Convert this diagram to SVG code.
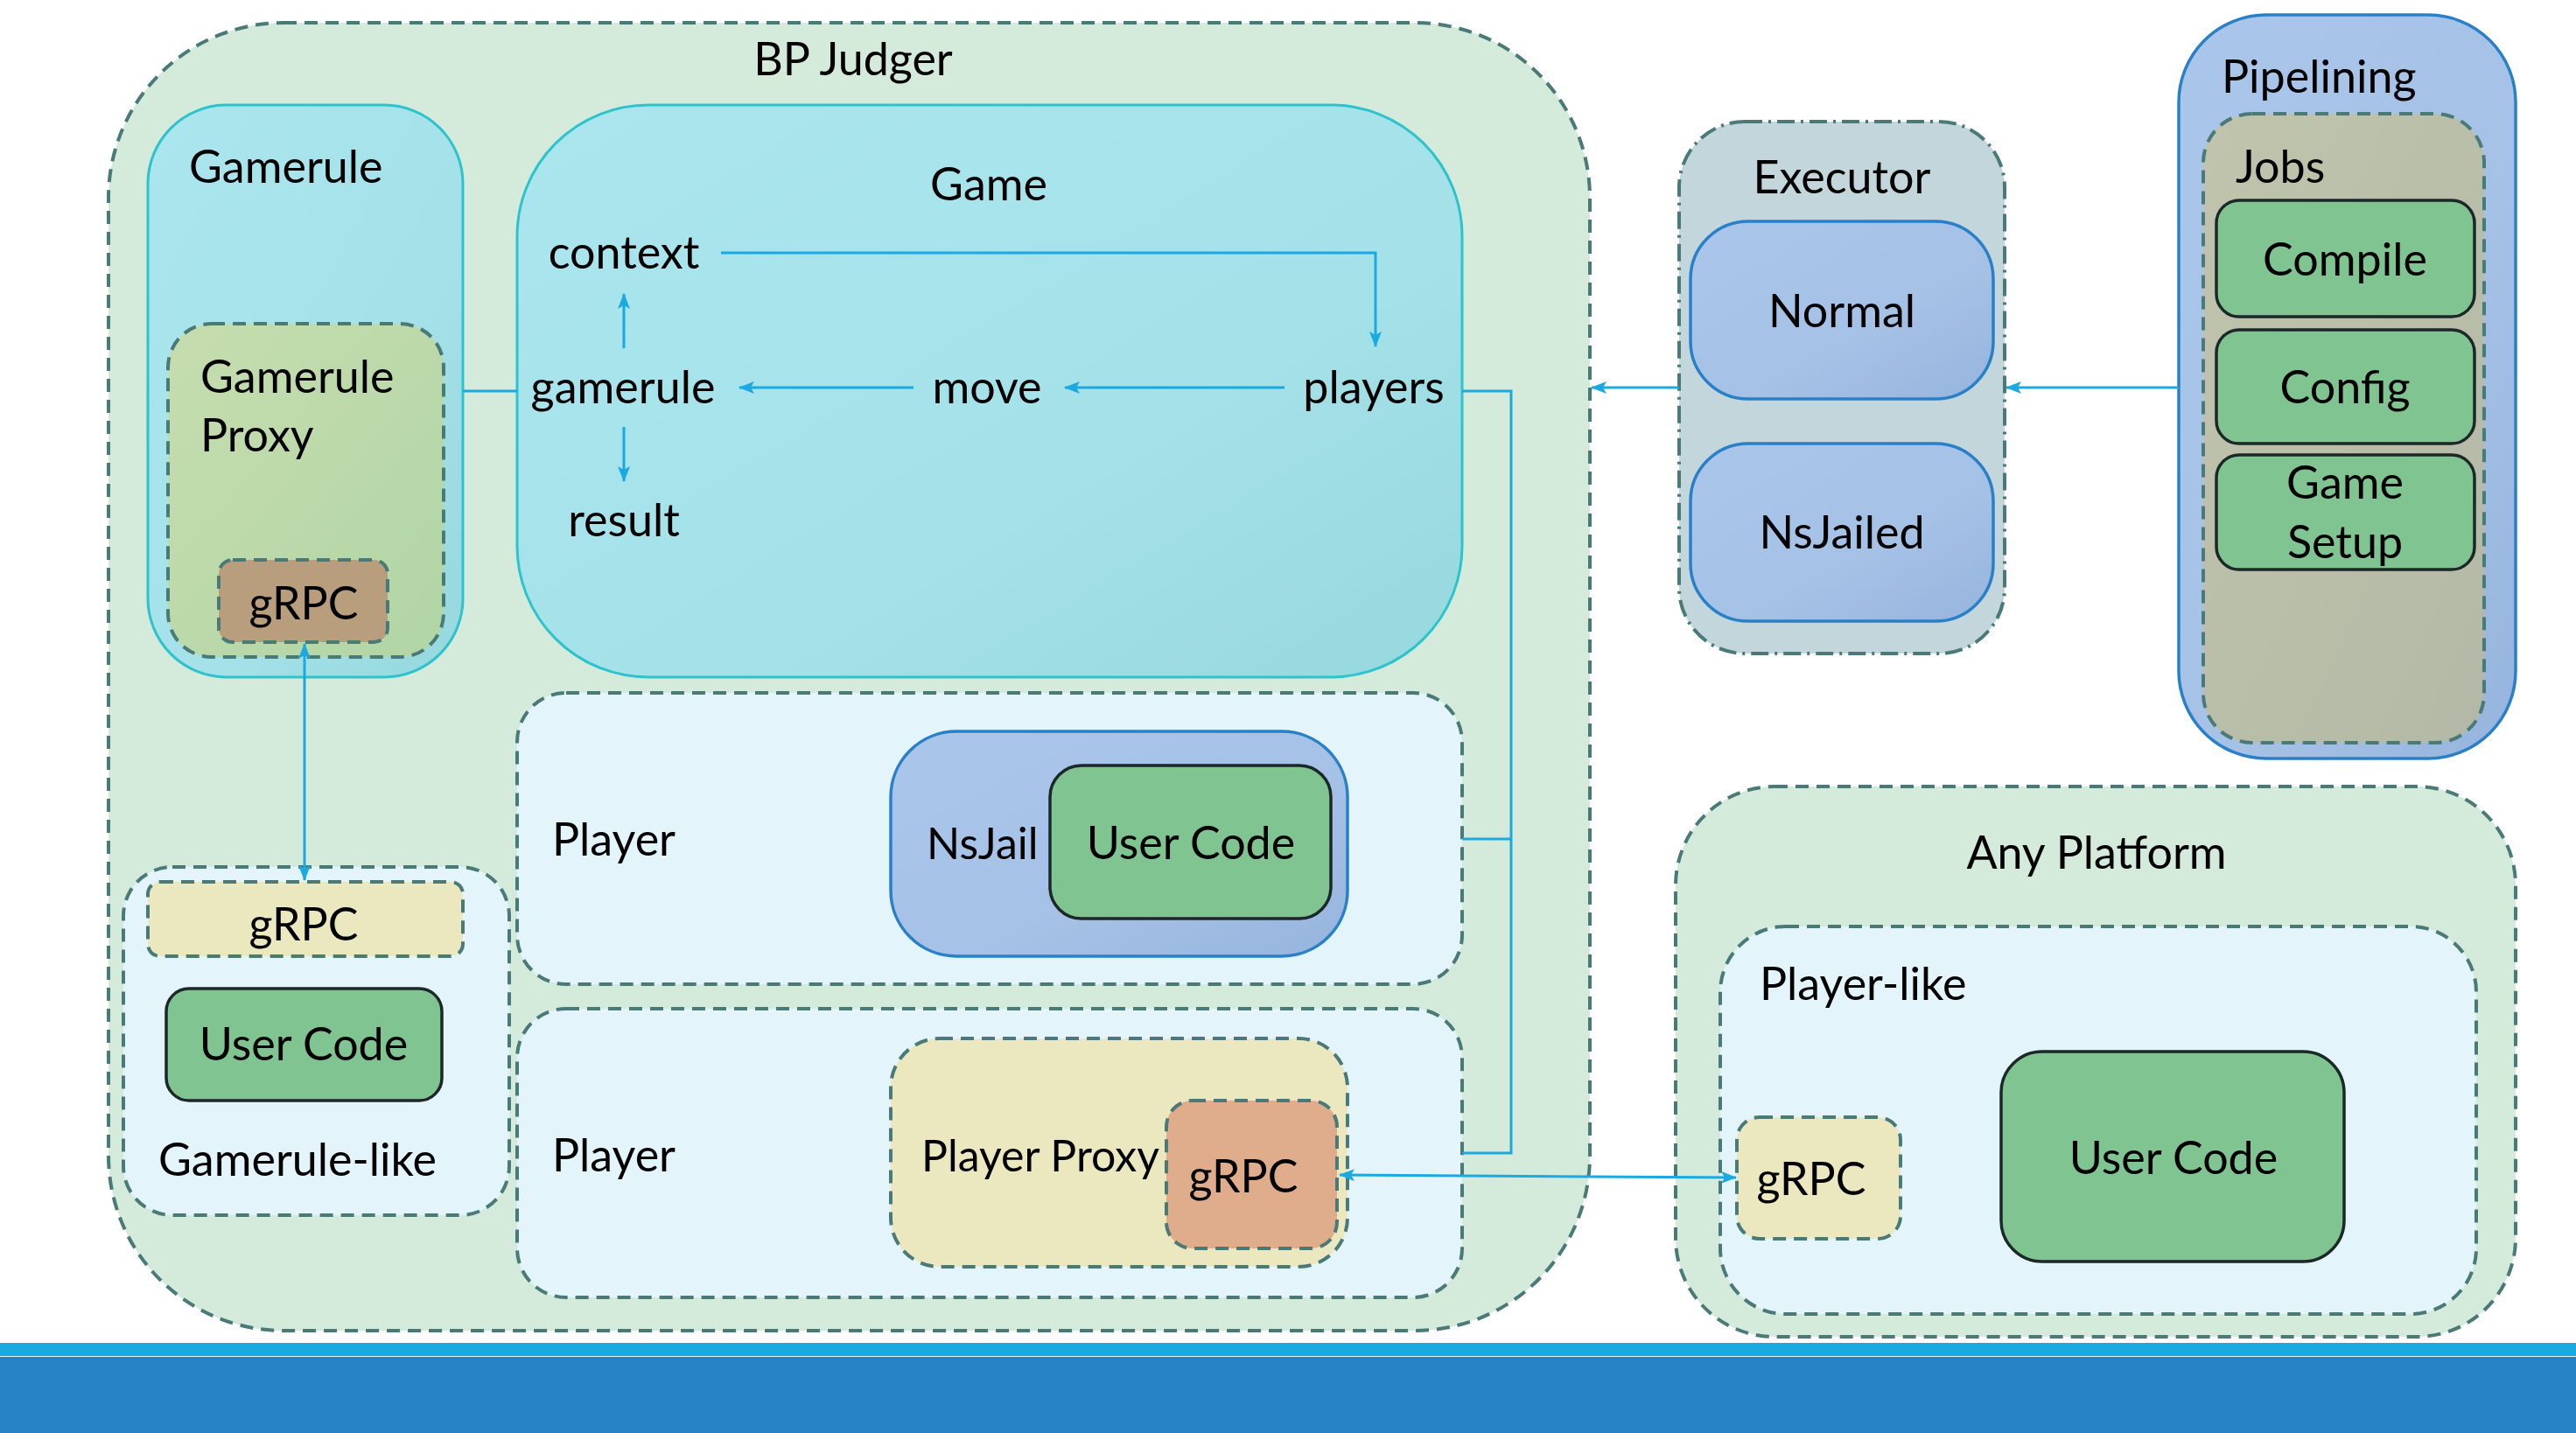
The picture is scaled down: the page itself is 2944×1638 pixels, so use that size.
<svg xmlns="http://www.w3.org/2000/svg" width="2944" height="1638" viewBox="0 0 2944 1638">
<style>
text{font-family:Lato,"Liberation Sans",sans-serif;font-size:52px;fill:#000}
.m{text-anchor:middle}
.s{font-size:50px}
.dash{stroke:#4a7a78;stroke-width:4;stroke-dasharray:15 9}
.dashdot{stroke:#4a7a78;stroke-width:4;stroke-dasharray:20 7 3 7}
.cyan{stroke:#2ec3cc;stroke-width:3}
.blue{stroke:#2a80c8;stroke-width:3.5}
.code{fill:#7fc491;stroke:#1c2828;stroke-width:3.5}
.yel{fill:#ebe8c0}
.lite{fill:#e3f4fb}
.conn{fill:none;stroke:#1aa9e0;stroke-width:3}
</style>
<defs>
<linearGradient id="gCyan" x1="0" y1="0" x2="1" y2="1">
<stop offset="0" stop-color="#abe6ee"/><stop offset="0.6" stop-color="#a5e1e8"/><stop offset="1" stop-color="#95d8de"/>
</linearGradient>
<linearGradient id="gBlue" x1="0" y1="0" x2="1" y2="1">
<stop offset="0" stop-color="#aac6ea"/><stop offset="0.6" stop-color="#a6c1e6"/><stop offset="1" stop-color="#95b4dd"/>
</linearGradient>
<linearGradient id="gProxy" x1="0" y1="0" x2="1" y2="1">
<stop offset="0" stop-color="#c6ddae"/><stop offset="1" stop-color="#b1d5a6"/>
</linearGradient>
<linearGradient id="gJobs" x1="0" y1="0" x2="1" y2="1">
<stop offset="0" stop-color="#c0c4ac"/><stop offset="1" stop-color="#b3b9a6"/>
</linearGradient>
<marker id="ah" viewBox="0 0 18 14" refX="17" refY="7" markerWidth="18" markerHeight="14" markerUnits="userSpaceOnUse" orient="auto-start-reverse">
<path d="M0,0 L18,7 L0,14 L4,7 z" fill="#1aa9e0"/>
</marker>
</defs>
<rect width="2944" height="1638" fill="#ffffff"/>

<g id="bp-judger">
<rect x="124" y="26" width="1693" height="1495" rx="200" ry="200" fill="#d4eadb" class="dash"/>
<text x="975" y="86" class="m">BP Judger</text>
</g>

<g id="gamerule">
<rect x="169" y="120" width="360" height="654" rx="90" ry="90" fill="url(#gCyan)" class="cyan"/>
<text x="216" y="209">Gamerule</text>
</g>
<g id="gamerule-proxy">
<rect x="192" y="370" width="315" height="381" rx="50" ry="50" fill="url(#gProxy)" class="dash"/>
<text x="229" y="449">Gamerule</text>
<text x="229" y="516">Proxy</text>
</g>
<g id="grpc-proxy">
<rect x="250" y="640" width="193" height="94" rx="16" ry="16" fill="#b99e7e" class="dash"/>
<text x="347" y="708" class="m">gRPC</text>
</g>

<g id="game">
<rect x="591" y="120" width="1080" height="654" rx="150" ry="150" fill="url(#gCyan)" class="cyan"/>
<text x="1130" y="229" class="m">Game</text>
<text x="713" y="307" class="m">context</text>
<text x="712" y="461" class="m">gamerule</text>
<text x="713" y="613" class="m">result</text>
<text x="1128" y="461" class="m">move</text>
<text x="1570" y="461" class="m">players</text>
</g>

<g id="player1">
<rect x="591" y="792" width="1080" height="333" rx="56" ry="56" class="lite dash"/>
<text x="631" y="978">Player</text>
</g>
<g id="nsjail">
<rect x="1018" y="836" width="522" height="257" rx="75" ry="75" fill="url(#gBlue)" class="blue"/>
<text x="1059" y="982" class="s">NsJail</text>
</g>
<g id="usercode-nsjail">
<rect x="1200" y="875" width="321" height="175" rx="36" ry="36" class="code"/>
<text x="1361" y="982" class="m">User Code</text>
</g>

<g id="player2">
<rect x="591" y="1153" width="1080" height="330" rx="56" ry="56" class="lite dash"/>
<text x="631" y="1339">Player</text>
</g>
<g id="player-proxy">
<rect x="1018" y="1187" width="522" height="261" rx="56" ry="56" class="yel dash"/>
<text x="1053" y="1339" class="s">Player Proxy</text>
</g>
<g id="grpc-player-proxy">
<rect x="1333" y="1258" width="195" height="169" rx="30" ry="30" fill="#e0ad8c" class="dash"/>
<text x="1421" y="1363" class="m">gRPC</text>
</g>

<g id="gamerule-like">
<rect x="141" y="991" width="441" height="398" rx="56" ry="56" class="lite dash"/>
<text x="340" y="1344" class="m">Gamerule-like</text>
</g>
<g id="grpc-gamerule-like">
<rect x="169" y="1008" width="360" height="85" rx="14" ry="14" class="yel dash"/>
<text x="347" y="1075" class="m">gRPC</text>
</g>
<g id="usercode-gamerule-like">
<rect x="190" y="1130" width="315" height="128" rx="26" ry="26" class="code"/>
<text x="347" y="1212" class="m">User Code</text>
</g>

<g id="executor">
<rect x="1919" y="139" width="372" height="608" rx="75" ry="75" fill="#c3d6dc" class="dashdot"/>
<text x="2105" y="221" class="m">Executor</text>
</g>
<g id="normal">
<rect x="1932" y="253" width="346" height="203" rx="66" ry="66" fill="url(#gBlue)" class="blue"/>
<text x="2105" y="374" class="m">Normal</text>
</g>
<g id="nsjailed">
<rect x="1932" y="507" width="346" height="203" rx="66" ry="66" fill="url(#gBlue)" class="blue"/>
<text x="2105" y="627" class="m">NsJailed</text>
</g>

<g id="pipelining">
<rect x="2490" y="17" width="385" height="850" rx="100" ry="100" fill="url(#gBlue)" class="blue"/>
<text x="2539" y="106">Pipelining</text>
</g>
<g id="jobs">
<rect x="2518" y="130" width="321" height="719" rx="56" ry="56" fill="url(#gJobs)" class="dash"/>
<text x="2555" y="209">Jobs</text>
</g>
<g id="compile">
<rect x="2533" y="229" width="295" height="133" rx="26" ry="26" class="code"/>
<text x="2680" y="315" class="m">Compile</text>
</g>
<g id="config">
<rect x="2533" y="377" width="295" height="130" rx="26" ry="26" class="code"/>
<text x="2680" y="461" class="m">Config</text>
</g>
<g id="game-setup">
<rect x="2533" y="520" width="295" height="131" rx="26" ry="26" class="code"/>
<text x="2680" y="570" class="m">Game</text>
<text x="2680" y="638" class="m">Setup</text>
</g>

<g id="any-platform">
<rect x="1915" y="899" width="960" height="629" rx="113" ry="113" fill="#d4eadb" class="dash"/>
<text x="2396" y="993" class="m">Any Platform</text>
</g>
<g id="player-like">
<rect x="1966" y="1059" width="864" height="443" rx="75" ry="75" class="lite dash"/>
<text x="2011" y="1143">Player-like</text>
</g>
<g id="grpc-any-platform">
<rect x="1985" y="1277" width="187" height="139" rx="26" ry="26" class="yel dash"/>
<text x="2070" y="1366" class="m">gRPC</text>
</g>
<g id="usercode-any-platform">
<rect x="2287" y="1202" width="392" height="240" rx="47" ry="47" class="code"/>
<text x="2484" y="1342" class="m">User Code</text>
</g>

<g id="connectors">
<path class="conn" d="M824,289 H1572 V396" marker-end="url(#ah)"/>
<path class="conn" d="M713,398 V336" marker-end="url(#ah)"/>
<path class="conn" d="M713,488 V550" marker-end="url(#ah)"/>
<path class="conn" d="M1044,443 H845" marker-end="url(#ah)"/>
<path class="conn" d="M1468,443 H1217" marker-end="url(#ah)"/>
<path class="conn" d="M529,447 H591"/>
<path class="conn" d="M1671,447 H1727 V1318 H1671 M1671,959 H1727"/>
<path class="conn" d="M348,736 V1006" marker-start="url(#ah)" marker-end="url(#ah)"/>
<path class="conn" d="M1919,443 H1819" marker-end="url(#ah)"/>
<path class="conn" d="M2490,443 H2293" marker-end="url(#ah)"/>
<path class="conn" d="M1531,1343 L1984,1346" marker-start="url(#ah)" marker-end="url(#ah)"/>
</g>

<g id="footer-bar">
<rect x="0" y="1535" width="2944" height="15" fill="#1aa9e0"/>
<rect x="0" y="1551" width="2944" height="87" fill="#2682c5"/>
</g>
</svg>
